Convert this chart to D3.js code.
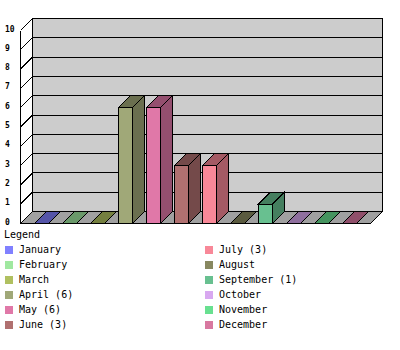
<!DOCTYPE html>
<html>
<head>
<meta charset="utf-8">
<script src="https://cdn.jsdelivr.net/npm/d3@7"></script>
<style>
  body { margin: 0; background: #fff; }
  svg { display: block; }
  text { font-family: "DejaVu Sans Mono", "Liberation Mono", monospace; fill: #000; }
</style>
</head>
<body>
<div id="chart"></div>
<script>
// chart data
const months = ["January", "February", "March", "April", "May", "June",
                "July", "August", "September", "October", "November", "December"];
const counts = [0, 0, 0, 6, 6, 3, 3, 0, 1, 0, 0, 0];
const colors = ["#8080ff", "#a0e8a0", "#b0c060", "#a0a878", "#e078a8", "#b07070",
                "#f88898", "#888860", "#68c090", "#d8a8f0", "#68e090", "#d878a0"];
const yTicks = [0, 1, 2, 3, 4, 5, 6, 7, 8, 9, 10];

const W = 400, H = 350;
const DX = 12, DY = 12;   // depth of the 3d box

const svg = d3.select("#chart").append("svg")
    .attr("width", W)
    .attr("height", H)
    .style("shape-rendering", "crispEdges");

const x = d3.scaleBand()
    .domain(months)
    .range([20, 370])
    .paddingInner(0.5)
    .paddingOuter(0.5);

const y = d3.scaleLinear()
    .domain([0, 10])
    .range([223, 30]);

const g = svg.append("g").attr("transform", "translate(0.5,0.5)");

const darker = c => {
    const r = d3.rgb(c);
    return d3.rgb(r.r * 0.66, r.g * 0.66, r.b * 0.66).toString();
};

// back wall
g.append("rect")
    .attr("x", x.range()[0] + DX)
    .attr("y", y(10) - DY)
    .attr("width", x.range()[1] - x.range()[0])
    .attr("height", y(0) - y(10))
    .attr("fill", "#cccccc")
    .attr("stroke", "#000");

// grid lines on back wall + left wall ticks
g.selectAll(".grid")
    .data(yTicks)
    .enter().append("path")
    .attr("class", "grid")
    .attr("fill", "none")
    .attr("stroke", "#000")
    .attr("d", d => `M${x.range()[0]},${y(d)}L${x.range()[0] + DX},${y(d) - DY}H${x.range()[1] + DX}`);

// left wall front edge
g.append("line")
    .attr("x1", x.range()[0]).attr("x2", x.range()[0])
    .attr("y1", y(10)).attr("y2", y(0))
    .attr("stroke", "#000");

// floor
const x0 = x.range()[0], x1 = x.range()[1], yb = y(0);
g.append("path")
    .attr("d", `M${x0},${yb}L${x1},${yb}L${x1 + DX},${yb - DY}L${x0 + DX},${yb - DY}Z`)
    .attr("fill", "#a0a0a0")
    .attr("stroke", "#000");

// bars
const bw = x.bandwidth();
const bars = g.selectAll(".bar")
    .data(months.map((m, i) => ({ m, v: counts[i], c: colors[i] })))
    .enter().append("g")
    .attr("class", "bar");

// top face
bars.append("path")
    .attr("d", d => {
        const bx = x(d.m), by = y(d.v);
        return `M${bx},${by}L${bx + DX},${by - DY}L${bx + bw + DX},${by - DY}L${bx + bw},${by}Z`;
    })
    .attr("fill", d => darker(d.c))
    .attr("stroke", "#000");

// side face
bars.filter(d => d.v > 0).append("path")
    .attr("d", d => {
        const bx = x(d.m) + bw, by = y(d.v);
        return `M${bx},${by}L${bx + DX},${by - DY}L${bx + DX},${yb - DY}L${bx},${yb}Z`;
    })
    .attr("fill", d => darker(d.c))
    .attr("stroke", "#000");

// front face
bars.filter(d => d.v > 0).append("rect")
    .attr("x", d => x(d.m))
    .attr("y", d => y(d.v))
    .attr("width", bw)
    .attr("height", d => yb - y(d.v))
    .attr("fill", d => d.c)
    .attr("stroke", "#000");

// y tick labels
svg.selectAll(".tick")
    .data(yTicks)
    .enter().append("text")
    .attr("class", "tick")
    .attr("x", 5)
    .attr("y", d => y(d) - 1)
    .attr("dominant-baseline", "middle")
    .style("font-size", "8px")
    .style("font-weight", "bold")
    .text(d => d);

// legend
svg.append("text")
    .attr("x", 4)
    .attr("y", 235)
    .attr("dominant-baseline", "middle")
    .style("font-size", "10px")
    .text("Legend");

const legend = svg.selectAll(".legend")
    .data(months.map((m, i) => ({ m, v: counts[i], c: colors[i], i })))
    .enter().append("g")
    .attr("class", "legend")
    .attr("transform", d => `translate(${d.i < 6 ? 5 : 205},${250 + 15 * (d.i % 6)})`);

legend.append("rect")
    .attr("x", 0)
    .attr("y", -4)
    .attr("width", 8)
    .attr("height", 8)
    .attr("fill", d => d.c);

legend.append("text")
    .attr("x", 14)
    .attr("y", 0)
    .attr("dominant-baseline", "middle")
    .style("font-size", "10px")
    .text(d => d.v > 0 ? `${d.m} (${d.v})` : d.m);
</script>
</body>
</html>
